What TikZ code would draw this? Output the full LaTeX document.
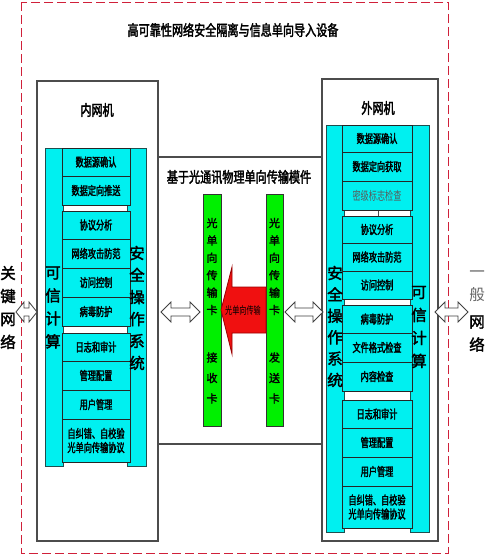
\documentclass[tikz,border=0pt]{standalone}
\usepackage{fontspec}
\newfontfamily\cjk[FakeStretch=0.68,FakeBold=2]{Noto Sans CJK SC}
\newfontfamily\cjkr[FakeStretch=0.68]{Noto Sans CJK SC}
\newfontfamily\cjkt[FakeStretch=0.74,FakeBold=2.2]{Noto Sans CJK SC}
\newfontfamily\cjkw[FakeBold=2]{Noto Sans CJK SC}
\newfontfamily\cjkwr{Noto Sans CJK SC}
\definecolor{mycyan}{HTML}{00F0F0}
\definecolor{mygreen}{HTML}{00F000}
\definecolor{myred}{HTML}{F01010}
\definecolor{dashred}{HTML}{D0203A}
\definecolor{coledge}{HTML}{1F4F4F}
\tikzset{
  fbox/.style={draw=black!85,line width=1pt,fill=mycyan,inner sep=0pt,outer sep=0pt,align=center,
    font=\cjk\fontsize{12}{14}\selectfont},
  colbox/.style={draw=coledge,line width=1pt,fill=mycyan},
  machine/.style={draw=black!70,line width=1.2pt,fill=white},
  vtext/.style={align=center,inner sep=0pt,font=\cjkw\fontsize{15.5}{22}\selectfont},
  gtext/.style={align=center,inner sep=0pt,font=\cjkw\fontsize{11}{17.4}\selectfont},
  harrow/.style={draw=black!75,line width=0.8pt,fill=white,line join=miter},
  bar/.style={draw=black!80,line width=0.8pt,fill=mygreen},
}
\newcommand\bx[6]{\node[fbox,minimum width={(#4-#2)*1pt},minimum height={(#5-#3)*1pt}] (#1) at ({(#2+#4)/2},{(#3+#5)/2}) {#6};}
\newcommand\dblarrow[4]{%
  \draw[harrow] (#1,#3) -- ++(#4,-10) -- ++(0,6) -- ({#2-#4},{#3-4}) -- ++(0,-6) -- (#2,#3)
    -- ({#2-#4},{#3+10}) -- ++(0,-6) -- ({#1+#4},{#3+4}) -- ++(0,6) -- cycle;}
\begin{document}
\begin{tikzpicture}[x=1pt,y=-1pt]
\useasboundingbox (0,0) rectangle (490,557);
% outer dashed frame
\draw[dashred,line width=1pt,dash pattern=on 9pt off 4pt] (21,2) rectangle (448,553);
\node[font=\cjkt\fontsize{15}{17}\selectfont] (title) at (233,30) {高可靠性网络安全隔离与信息单向导入设备};

% machine frames
\draw[machine] (37,81) rectangle (158,541);
\draw[machine] (322,79) rectangle (438,541);
\draw[machine] (158,157) rectangle (322,444);
\node[font=\cjkt\fontsize{15}{17}\selectfont] (inner) at (97,110) {内网机};
\node[font=\cjkt\fontsize{15}{17}\selectfont] (outer) at (378,108) {外网机};
\node[font=\cjkt\fontsize{15}{17}\selectfont] (midtitle) at (239,177) {基于光通讯物理单向传输模件};

% inner machine stack
\draw[colbox] (45,148) rectangle (63,466);
\draw[colbox] (127,148) rectangle (146,466);
\bx{a1}{62}{148}{130}{176}{数据源确认}
\bx{a2}{62}{176}{130}{205}{数据定向推送}
\bx{a3}{62}{211}{130}{239}{协议分析}
\bx{a4}{62}{239}{130}{268}{网络攻击防范}
\bx{a5}{62}{268}{130}{297}{访问控制}
\bx{a6}{62}{297}{130}{326}{病毒防护}
\bx{a7}{62}{333}{130}{361}{日志和审计}
\bx{a8}{62}{361}{130}{390}{管理配置}
\bx{a9}{62}{390}{130}{419}{用户管理}
\bx{a10}{62}{419}{130}{462}{自纠错、自校验\\光单向传输协议}
\node[vtext,font=\cjkw\fontsize{15.5}{23}\selectfont] (ia) at (53,307.5) {可\\信\\计\\算};
\node[vtext] (ib) at (137,308) {安\\全\\操\\作\\系\\统};

% outer machine stack
\draw[colbox] (326,125) rectangle (344,532);
\draw[colbox] (410,125) rectangle (429,532);
\draw[black!70,line width=0.8pt] (378,210) -- (378,216);
\bx{b1}{342}{125}{412}{152}{数据源确认}
\bx{b2}{342}{152}{412}{181}{数据定向获取}
\node[fbox,minimum width=70pt,minimum height=29pt,font=\cjkr\fontsize{12}{14}\selectfont,text=black!65] (b3) at (377,195.5) {密级标志检查};
\bx{b4}{342}{216}{412}{243}{协议分析}
\bx{b5}{342}{243}{412}{271}{网络攻击防范}
\bx{b6}{342}{271}{412}{299}{访问控制}
\bx{b7}{342}{305}{412}{333}{病毒防护}
\bx{b8}{342}{333}{412}{362}{文件格式检查}
\bx{b9}{342}{362}{412}{391}{内容检查}
\bx{b10}{342}{400}{412}{428}{日志和审计}
\bx{b11}{342}{428}{412}{457}{管理配置}
\bx{b12}{342}{457}{412}{486}{用户管理}
\bx{b13}{342}{486}{412}{528}{自纠错、自校验\\光单向传输协议}
\node[vtext,font=\cjkw\fontsize{15.5}{21.4}\selectfont] (oa) at (335,326.5) {安\\全\\操\\作\\系\\统};
\node[vtext,font=\cjkw\fontsize{15.5}{23}\selectfont] (ob) at (419,327) {可\\信\\计\\算};

% side labels
\node[vtext,font=\cjkw\fontsize{15.5}{23}\selectfont] (lnet) at (8,307.5) {关\\键\\网\\络};
\node[vtext,font=\cjkwr\fontsize{15.5}{23}\selectfont,text=black!60] (rnet1) at (477,286.5) {一\\般};
\node[vtext,font=\cjkw\fontsize{15.5}{23}\selectfont] (rnet2) at (477,333.5) {网\\络};

% green cards
\draw[bar] (203,194) rectangle (221,426);
\draw[bar] (266,194) rectangle (283,426);
\node[gtext] (rc1) at (212,266.5) {光\\单\\向\\传\\输\\卡};
\node[gtext,font=\cjkw\fontsize{11}{20.5}\selectfont] (rc2) at (212,378) {接\\收\\卡};
\node[gtext] (sc1) at (274.5,266.5) {光\\单\\向\\传\\输\\卡};
\node[gtext,font=\cjkw\fontsize{11}{20.5}\selectfont] (sc2) at (274.5,378) {发\\送\\卡};

% red one-way arrow
\draw[draw=red!60!black,line width=0.8pt,fill=myred]
  (221,310) -- (232,267) -- (232,287) -- (266,287) -- (266,333) -- (232,333) -- (232,354) -- cycle;
\node[font=\cjkr\fontsize{10.5}{12}\selectfont,inner sep=0pt] (lbl) at (243,310) {光单向传输};

% hollow double arrows
\dblarrow{16}{37}{312}{8}
\dblarrow{161}{200}{312}{10}
\dblarrow{285}{323}{312}{10}
\dblarrow{435}{468}{312}{10}
\end{tikzpicture}
\end{document}
